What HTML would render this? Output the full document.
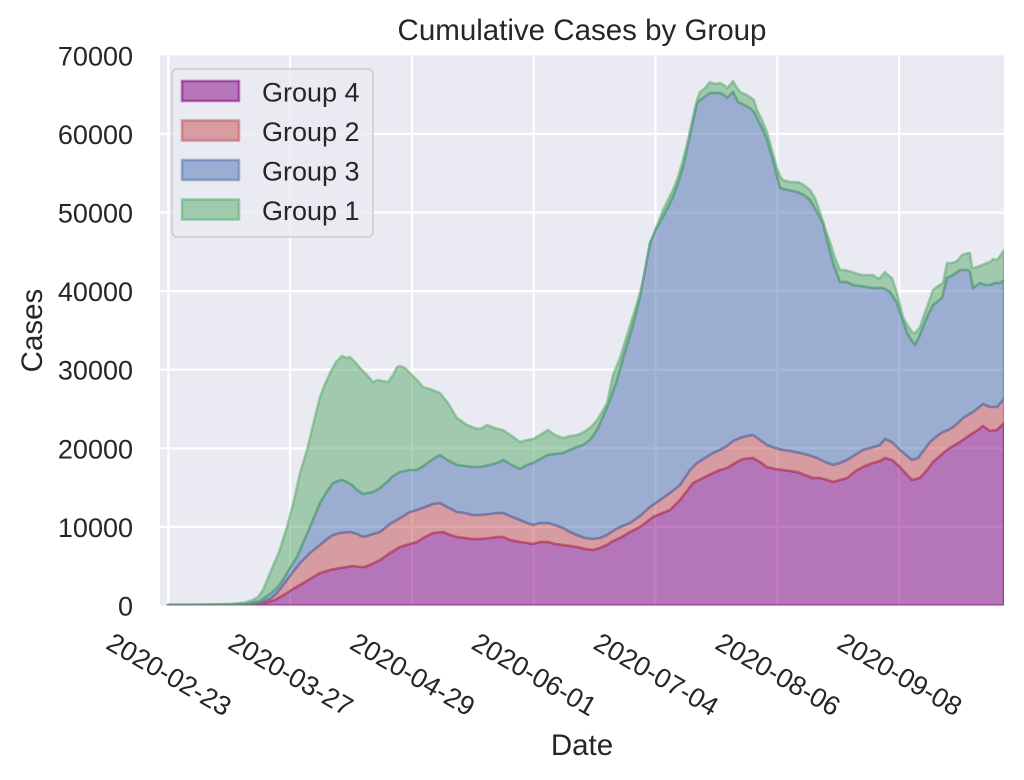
<!DOCTYPE html>
<html><head><meta charset="utf-8"><style>
html,body{margin:0;padding:0;background:#fff;}
svg{display:block;font-family:"Liberation Sans","DejaVu Sans",sans-serif;}
</style></head><body>
<svg width="1024" height="780" viewBox="0 0 1024 780" xmlns="http://www.w3.org/2000/svg">
<defs><clipPath id="ax"><rect x="160" y="55.3" width="844" height="550.2"/></clipPath></defs>
<rect x="160" y="55.3" width="844" height="550.2" fill="#eaeaf2"/>
<g stroke="#ffffff" stroke-width="2.2">
<line x1="168.3" y1="55.3" x2="168.3" y2="605.5"/><line x1="290.1" y1="55.3" x2="290.1" y2="605.5"/><line x1="411.9" y1="55.3" x2="411.9" y2="605.5"/><line x1="533.7" y1="55.3" x2="533.7" y2="605.5"/><line x1="655.5" y1="55.3" x2="655.5" y2="605.5"/><line x1="777.3" y1="55.3" x2="777.3" y2="605.5"/><line x1="899.1" y1="55.3" x2="899.1" y2="605.5"/>
<line x1="160" y1="526.9" x2="1004" y2="526.9"/><line x1="160" y1="448.3" x2="1004" y2="448.3"/><line x1="160" y1="369.7" x2="1004" y2="369.7"/><line x1="160" y1="291.1" x2="1004" y2="291.1"/><line x1="160" y1="212.5" x2="1004" y2="212.5"/><line x1="160" y1="133.9" x2="1004" y2="133.9"/>
</g>
<g clip-path="url(#ax)" stroke-width="2.6" stroke-linejoin="round" fill-opacity="0.5" stroke-opacity="0.5">
<polygon id="p4" fill="#800080" stroke="#800080" points="168,605.5 168,605 250,604.8 265,603 275,600 287,593 293,589 300,585 310,579 320,573 330,570 340,568 347,567 353,566 360,567 365,567 372,564 380,560 390,553 400,547 410,544 417,542 425,537 433,533 443,532 450,535 457,537 465,538 472,539 480,539 490,538 497,537 503,537 510,540 520,542 527,543 533,544 540,542 548,542 555,544 563,545 570,546 577,547 585,549 593,550 600,548 607,545 613,541 620,538 630,532 640,527 653,517 660,514 670,510 680,500 693,483 703,478 713,473 720,470 727,468 735,463 743,459 753,458 760,462 767,467 775,469 783,470 790,471 797,472 805,475 813,478 820,478 827,480 833,482 840,480 847,478 852,474 857,470 865,466 873,463 880,461 885,458 892,460 900,467 906,474 912,480 920,478 927,470 933,462 940,456 947,450 953,446 960,442 967,437 973,433 978,430 983,426 990,431 997,430 1004,423 1004,605.5"/>
<polygon fill="#C44E52" stroke="#C44E52" points="168,605 250,604.8 265,603 275,600 287,593 293,589 300,585 310,579 320,573 330,570 340,568 347,567 353,566 360,567 365,567 372,564 380,560 390,553 400,547 410,544 417,542 425,537 433,533 443,532 450,535 457,537 465,538 472,539 480,539 490,538 497,537 503,537 510,540 520,542 527,543 533,544 540,542 548,542 555,544 563,545 570,546 577,547 585,549 593,550 600,548 607,545 613,541 620,538 630,532 640,527 653,517 660,514 670,510 680,500 693,483 703,478 713,473 720,470 727,468 735,463 743,459 753,458 760,462 767,467 775,469 783,470 790,471 797,472 805,475 813,478 820,478 827,480 833,482 840,480 847,478 852,474 857,470 865,466 873,463 880,461 885,458 892,460 900,467 906,474 912,480 920,478 927,470 933,462 940,456 947,450 953,446 960,442 967,437 973,433 978,430 983,426 990,431 997,430 1004,423 1004,399 997,407 990,407 983,404 978,408 973,412 968,415 963,418 958,423 953,427 948,430 943,432 937,436 930,442 924,450 918,458 912,460 906,455 900,450 892,442 885,439 880,445 870,448 863,450 855,455 847,460 840,463 833,465 825,462 817,458 808,455 800,453 790,451 783,450 775,448 767,445 760,440 753,435 747,436 740,438 733,441 727,446 720,450 713,453 705,458 697,463 690,470 680,485 670,493 660,500 650,507 640,516 630,523 620,527 613,531 607,535 600,538 593,539 585,538 577,535 570,532 563,528 555,525 548,523 540,523 533,525 527,523 520,520 510,516 503,513 497,513 490,514 480,515 472,515 465,513 457,512 447,507 440,503 433,504 425,507 417,510 410,512 400,518 390,524 380,532 370,535 363,537 357,534 350,532 340,533 333,535 327,539 320,545 310,553 300,563 293,572 287,580 277,593 270,599 260,603 240,604.8 168,605"/>
<polygon fill="#4C72B0" stroke="#4C72B0" points="168,605 240,604.8 260,603 270,599 277,593 287,580 293,572 300,563 310,553 320,545 327,539 333,535 340,533 350,532 357,534 363,537 370,535 380,532 390,524 400,518 410,512 417,510 425,507 433,504 440,503 447,507 457,512 465,513 472,515 480,515 490,514 497,513 503,513 510,516 520,520 527,523 533,525 540,523 548,523 555,525 563,528 570,532 577,535 585,538 593,539 600,538 607,535 613,531 620,527 630,523 640,516 650,507 660,500 670,493 680,485 690,470 697,463 705,458 713,453 720,450 727,446 733,441 740,438 747,436 753,435 760,440 767,445 775,448 783,450 790,451 800,453 808,455 817,458 825,462 833,465 840,463 847,460 855,455 863,450 870,448 880,445 885,439 892,442 900,450 906,455 912,460 918,458 924,450 930,442 937,436 943,432 948,430 953,427 958,423 963,418 968,415 973,412 978,408 983,404 990,407 997,407 1004,399 1004,280 1000,283 995,283 990,285 985,285 980,283 973,288 970,272 968,270 960,270 953,275 947,278 942,298 938,301 933,305 928,315 923,327 919,337 915,345 912,341 907,333 902,318 897,303 890,292 883,288 878,288 873,288 867,287 860,286 853,285 847,282 840,282 833,263 827,240 823,223 817,212 810,200 804,195 797,192 788,190 780,188 773,160 767,140 762,128 757,118 754,112 750,108 744,105 738,102 733,92 730,95 727,98 724,95 720,93 715,93 710,93 703,98 697,103 690,135 683,167 678,183 673,197 668,207 663,217 656,229 650,243 645,270 640,297 633,325 627,345 622,362 617,380 610,400 603,417 597,430 590,440 583,445 577,447 570,450 563,453 555,454 548,455 540,459 533,463 527,465 520,469 510,464 503,460 497,463 490,465 480,467 472,467 465,466 457,465 447,460 440,455 433,459 425,465 417,470 410,470 400,472 393,476 387,482 380,488 373,492 368,493 363,494 357,490 352,485 347,482 342,480 338,481 333,483 326,493 320,503 315,515 310,527 303,543 297,557 290,568 283,580 277,588 270,594 260,601 250,603.5 230,604.5 168,605"/>
<polygon fill="#55A868" stroke="#55A868" points="168,605 230,604.5 250,603.5 260,601 270,594 277,588 283,580 290,568 297,557 303,543 310,527 315,515 320,503 326,493 333,483 338,481 342,480 347,482 352,485 357,490 363,494 368,493 373,492 380,488 387,482 393,476 400,472 410,470 417,470 425,465 433,459 440,455 447,460 457,465 465,466 472,467 480,467 490,465 497,463 503,460 510,464 520,469 527,465 533,463 540,459 548,455 555,454 563,453 570,450 577,447 583,445 590,440 597,430 603,417 610,400 617,380 622,362 627,345 633,325 640,297 645,270 650,243 656,229 663,217 668,207 673,197 678,183 683,167 690,135 697,103 703,98 710,93 715,93 720,93 724,95 727,98 730,95 733,92 738,102 744,105 750,108 754,112 757,118 762,128 767,140 773,160 780,188 788,190 797,192 804,195 810,200 817,212 823,223 827,240 833,263 840,282 847,282 853,285 860,286 867,287 873,288 878,288 883,288 890,292 897,303 902,318 907,333 912,341 915,345 919,337 923,327 928,315 933,305 938,301 942,298 947,278 953,275 960,270 968,270 970,272 973,288 980,283 985,285 990,285 995,283 1000,283 1004,280 1004,250 1000,256 997,260 993,259 990,262 987,263 982,265 977,267 972,268 970,253 968,253 962,255 958,260 955,262 951,263 947,263 943,283 938,286 933,290 927,307 924,315 920,327 915,333 912,332 908,326 903,317 900,305 897,293 892,278 888,275 885,272 880,278 877,278 873,275 868,275 863,275 858,274 852,272 845,270 840,270 835,258 830,242 825,228 820,212 815,198 810,190 804,185 798,182 790,182 783,180 780,176 777,168 772,150 767,132 762,120 757,110 754,100 750,97 745,94 740,92 736,86 733,81 730,85 727,88 724,85 720,83 715,84 710,82 705,88 700,92 697,100 693,117 688,140 683,160 678,177 673,190 668,200 663,210 656,228 650,245 645,272 640,293 633,316 627,335 620,358 613,375 607,403 602,412 597,420 592,426 587,430 582,433 577,435 570,436 563,438 555,435 548,430 540,435 533,439 527,440 520,442 512,436 503,430 495,428 487,425 480,429 475,428 467,425 457,418 448,403 440,393 430,389 423,387 417,380 410,373 405,368 400,366 397,367 393,375 388,382 383,381 378,380 373,382 366,374 360,368 355,362 350,357 347,358 342,356 336,362 330,373 325,384 320,397 313,425 307,450 300,473 294,500 287,527 279,552 270,573 263,590 258,597 253,600 245,602.5 230,604 210,604.5 168,605"/>
</g>
<g fill="#262626" font-size="27" text-anchor="end">
<text x="133" y="615.5">0</text><text x="133" y="536.9">10000</text><text x="133" y="458.3">20000</text><text x="133" y="379.7">30000</text><text x="133" y="301.1">40000</text><text x="133" y="222.5">50000</text><text x="133" y="143.9">60000</text><text x="133" y="65.3">70000</text>
</g>
<g fill="#262626" font-size="27" text-anchor="middle">
<text transform="translate(169.3,674) rotate(30)" y="9.7">2020-02-23</text>
<text transform="translate(291.1,674) rotate(30)" y="9.7">2020-03-27</text>
<text transform="translate(412.9,674) rotate(30)" y="9.7">2020-04-29</text>
<text transform="translate(534.7,674) rotate(30)" y="9.7">2020-06-01</text>
<text transform="translate(656.5,674) rotate(30)" y="9.7">2020-07-04</text>
<text transform="translate(778.3,674) rotate(30)" y="9.7">2020-08-06</text>
<text transform="translate(900.1,674) rotate(30)" y="9.7">2020-09-08</text>
</g>
<text x="582" y="40" font-size="29.5" fill="#262626" text-anchor="middle">Cumulative Cases by Group</text>
<text x="582" y="755" font-size="29.5" fill="#262626" text-anchor="middle">Date</text>
<text transform="translate(42,330.5) rotate(-90)" font-size="29.5" fill="#262626" text-anchor="middle">Cases</text>
<rect x="172" y="69" width="201" height="168" rx="5" fill="#eaeaf2" fill-opacity="0.8" stroke="#cccccc" stroke-width="1.5"/>
<g stroke-width="2.6" fill-opacity="0.5" stroke-opacity="0.5">
<rect x="182" y="81" width="57" height="20" fill="#800080" stroke="#800080"/>
<rect x="182" y="120.5" width="57" height="20" fill="#C44E52" stroke="#C44E52"/>
<rect x="182" y="160" width="57" height="20" fill="#4C72B0" stroke="#4C72B0"/>
<rect x="182" y="199.5" width="57" height="20" fill="#55A868" stroke="#55A868"/>
</g>
<g fill="#262626" font-size="27">
<text x="262" y="101.5">Group 4</text>
<text x="262" y="141">Group 2</text>
<text x="262" y="180.5">Group 3</text>
<text x="262" y="220">Group 1</text>
</g>
</svg>
</body></html>
